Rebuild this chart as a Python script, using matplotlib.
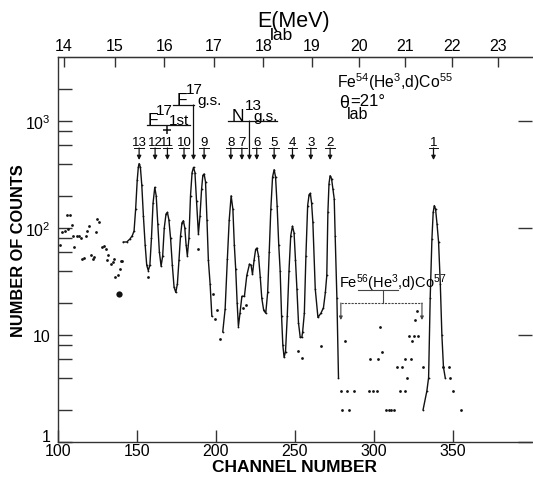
import numpy as np
import matplotlib
matplotlib.use("Agg")
import matplotlib.pyplot as plt
from matplotlib.transforms import blended_transform_factory, ScaledTranslation

# ---------------- data ----------------
# smooth curve drawn through the spectrum, three pieces
line_a_channel = [141.5, 143.7, 145.7, 147.2, 148.3, 149.3, 150.3, 151.0, 151.5, 152.3, 153.2, 154.2,
                  155.3, 156.3, 157.3, 158.3, 159.3, 160.3, 161.4, 162.3, 163.3, 164.3, 165.4, 166.4,
                  167.4, 168.5, 169.4, 170.3, 171.4, 172.5, 173.6, 174.7, 175.7, 176.7, 177.7, 178.6,
                  179.5, 180.4, 181.2, 182.0, 183.0, 184.0, 185.0, 185.9, 186.8, 187.8, 189.0, 190.0,
                  191.0, 191.8, 192.6, 193.5, 194.4, 195.3, 196.4, 197.5]
line_a_counts = [74, 74, 79, 85, 94, 150, 280, 370, 400, 370, 250, 130,
                 70, 45, 40, 45, 80, 170, 240, 200, 110, 60, 44, 55,
                 100, 135, 140, 120, 80, 45, 28, 25, 30, 50, 85, 112,
                 117, 100, 70, 55, 80, 200, 330, 369, 330, 180, 88, 130,
                 230, 310, 320, 270, 120, 50, 30, 15]

line_b_channel = [204.4, 205.9, 207.3, 208.5, 209.7, 210.8, 211.7, 212.6, 213.5, 214.3, 215.3, 216.5,
                  218.1, 219.6, 221.3, 222.3, 223.2, 224.2, 225.2, 226.0, 227.0, 228.1, 229.1, 230.3,
                  231.6, 232.8, 233.8, 234.8, 235.9, 236.9, 237.8, 238.8, 239.8, 240.7, 241.6, 242.4,
                  243.2, 244.1, 245.2, 246.3, 247.4, 248.5, 249.5, 250.4, 251.3, 252.3, 253.4, 254.4,
                  254.9, 256.0, 257.0, 258.1, 259.0, 259.8, 260.6, 261.4, 262.9, 264.6, 266.5, 268.1,
                  269.3, 270.2, 270.9, 271.6, 272.3, 273.2, 274.1, 274.9, 275.5, 276.6, 277.6]
line_b_counts = [10.7, 17.5, 51, 120, 200, 150, 70, 41, 20, 12, 16, 23,
                 23, 36, 46, 45, 37, 50, 63, 65, 55, 35, 22, 17,
                 16, 25, 60, 150, 300, 351, 300, 160, 70, 40, 15, 8,
                 6.2, 7, 15, 40, 85, 104, 90, 50, 27, 13, 9.5, 9.5,
                 10.6, 16, 55, 162, 205, 211, 170, 113, 27, 14.6, 16, 18,
                 25, 36, 140, 260, 308, 290, 230, 187, 85, 22, 4]

line_c_channel = [331.1, 333.5, 334.6, 335.6, 336.7, 337.5, 338.2, 339.0, 339.9, 340.9, 342.0, 343.0,
                  344.0, 345.1]
line_c_counts = [2, 3, 4, 22, 79, 140, 162, 150, 110, 74, 30, 10, 5, 4]

# individual data points off the curve
dot_channel = [101.5, 102.9, 104.6, 105.7, 106.3, 107.8, 108.9, 109.9, 110.5, 112.0, 113.5, 114.7,
               115.6, 116.8, 117.7, 118.7, 119.8, 121.1, 122.2, 123.2, 124.1, 125.1, 126.3, 127.8,
               129.3, 130.4, 131.4, 132.0, 133.7, 134.8, 135.8, 136.3, 138.4, 139.4, 140.1, 140.9,
               157.3, 189.0, 198.5, 199.6, 201.0, 202.7, 217.5, 219.0, 252.3, 254.6, 266.5,
               279.1, 283.3, 287.5, 297.2, 299.5, 301.9, 316.6, 319.8,
               279.7, 284.1, 307.8, 309.5, 311.0, 312.4,
               281.8, 304.0, 305.0, 297.6, 302.8, 314.6, 317.7, 321.0, 319.8, 323.4,
               322.5, 325.3, 328.2, 324.0, 326.1, 327.2, 330.8,
               344.0, 347.2, 348.3, 350.0, 355.3]
dot_counts = [69, 91, 94, 133, 98, 133, 107, 85, 66, 85, 84, 81,
              51, 52, 85, 94, 104, 56, 51, 54, 92, 121, 113, 67,
              68, 64, 50, 56, 46, 48, 51, 35, 36, 41, 49, 49,
              35, 64, 24, 14, 17, 9.2, 18, 19, 7.1, 6.1, 7.9,
              3, 3, 3, 3, 3, 3, 3, 3,
              2, 2, 2, 2, 2, 2,
              8.8, 11.8, 7, 6, 6, 5, 5, 4, 6, 6,
              9.8, 9.8, 9.8, 8.8, 13.9, 16.9, 5,
              5, 5, 4, 3, 2]
big_dot_channel = [138.8]
big_dot_counts = [24]

# peak markers
peak_labels = ['13', '12', '11', '10', '9', '8', '7', '6', '5', '4', '3', '2', '1']
peak_channels = [151.5, 161.6, 169.4, 179.9, 192.6, 209.5, 216.5, 225.9, 236.9, 248.5, 260.1, 272.3, 337.7]
f17_gs_channel = 185.9
f17_first_channel = 169.4
n13_gs_channel = 221.3
fe56_range = [279.1, 330.4]

# axes ticks
channel_ticks = [100, 150, 200, 250, 300, 350]
count_ticks = [1, 10, 100, 1000]
count_tick_labels = ['1', '10', r'$10^2$', r'$10^3$']
energy_ticks = [14, 15, 16, 17, 18, 19, 20, 21, 22, 23]
energy_tick_channels = [104.0, 136.3, 167.5, 198.9, 230.1, 260.7, 290.7, 319.8, 349.7, 378.4]

# ---------------- fonts ----------------
plt.rcParams['font.family'] = ['Liberation Sans', 'DejaVu Sans']
plt.rcParams['mathtext.fontset'] = 'custom'
plt.rcParams['mathtext.rm'] = 'Liberation Sans'
plt.rcParams['mathtext.it'] = 'Liberation Sans:italic'
plt.rcParams['mathtext.bf'] = 'Liberation Sans:bold'

# ---------------- figure ----------------
W, H = 533, 481
fig = plt.figure(figsize=(W / 100, H / 100), dpi=100)
L, R, T, B = 57.7, 532.0, 58.0, 443.0
ax = fig.add_axes([L / W, 1 - B / H, (R - L) / W, (B - T) / H])
ax.set_yscale('log')
ax.set_xlim(100, 400)
ax.set_ylim(1, 10 ** ((B - T) / 107.0))

ink = '#111111'
for seg_x, seg_y in [(line_a_channel, line_a_counts), (line_b_channel, line_b_counts),
                     (line_c_channel, line_c_counts)]:
    ax.plot(seg_x, seg_y, color=ink, lw=1.0, solid_joinstyle='round')
    ax.plot(seg_x, seg_y, 'o', color=ink, ms=1.3, mew=0)
ax.plot(dot_channel, dot_counts, 'o', color=ink, ms=2.0, mew=0)
ax.plot(big_dot_channel, big_dot_counts, 'o', color=ink, ms=4.5, mew=0)

# axes styling
for s in ['left', 'bottom', 'top']:
    ax.spines[s].set_linewidth(1.0)
    ax.spines[s].set_color('#333333')
ax.spines['right'].set_visible(False)
ax.set_xticks(channel_ticks)
ax.set_xticklabels([str(c) for c in channel_ticks], fontsize=11.5)
ax.set_yticks(count_ticks)
ax.set_yticklabels(count_tick_labels, fontsize=11.5)
minor = [m * 10 ** d for d in range(0, 4) for m in (2, 4, 6, 8) if m * 10 ** d < 3000]
ax.set_yticks(minor, minor=True)
ax.yaxis.set_minor_formatter(matplotlib.ticker.NullFormatter())
ax.tick_params(axis='both', which='both', direction='in', width=1.0, color='#333333')
ax.tick_params(axis='x', which='major', length=9, pad=1.0, top=False)
ax.tick_params(axis='x', which='minor', bottom=False, top=False)
ax.tick_params(axis='y', which='major', length=10, right=True, pad=5)
ax.tick_params(axis='y', which='minor', length=10, right=False)
ax.set_xlabel('CHANNEL NUMBER', fontsize=12.5, fontweight='bold')
ax.set_ylabel('NUMBER OF COUNTS', fontsize=11.8, fontweight='bold')
ax.yaxis.set_label_coords((19 - L) / (R - L), 0.5)
ax.xaxis.set_label_coords(0.5, -(468 - B) / (B - T))
ax.xaxis.label.set_va('center')
ax.yaxis.label.set_va('center')
# lift the "1" label slightly above the corner like the reference
one_lbl = ax.yaxis.get_major_ticks()[0].label1
one_lbl.set_transform(one_lbl.get_transform() + ScaledTranslation(0, 5 / 72, fig.dpi_scale_trans))

top = ax.secondary_xaxis('top')
top.set_xticks(energy_tick_channels)
top.set_xticklabels([str(e) for e in energy_ticks], fontsize=11.5)
top.tick_params(direction='in', length=7, width=1.0, pad=3, color='#333333')

def fx(px):
    return px / W

def fy(py):
    return 1 - py / H

def ay(py):
    return (B - py) / (B - T)

tr = blended_transform_factory(ax.transData, ax.transAxes)

# E_lab label
fig.text(fx(257), fy(27), 'E(MeV)', fontsize=15.5, va='baseline', ha='left')
fig.text(fx(270), fy(40), 'lab', fontsize=12.5, va='baseline', ha='left')

# peak arrows
arrow_kw = dict(arrowstyle='-|>', lw=0.9, color=ink, mutation_scale=6, shrinkA=0, shrinkB=0)
for lab, ch in zip(peak_labels, peak_channels):
    ax.text(ch, ay(143), lab, transform=tr, ha='center', va='center', fontsize=9.5)
    ax.plot([ch - 3, ch + 3], [ay(148.5)] * 2, transform=tr, color=ink, lw=0.7)
    ax.annotate('', xy=(ch, ay(161)), xytext=(ch, ay(149)), xycoords=tr, textcoords=tr,
                arrowprops=arrow_kw)

# F17 g.s.
ax.plot([173.0, f17_gs_channel], [ay(106)] * 2, transform=tr, color=ink, lw=0.9)
ax.annotate('', xy=(f17_gs_channel, ay(161)), xytext=(f17_gs_channel, ay(106)), xycoords=tr,
            textcoords=tr, arrowprops=arrow_kw)
fig.text(fx(177), fy(105), 'F', fontsize=12.5, va='baseline', ha='left')
fig.text(fx(186), fy(94), '17', fontsize=11, va='baseline', ha='left')
fig.text(fx(197), fy(105), 'g.s.', fontsize=11, va='baseline', ha='left')

# F17 1st
ax.plot([156.5, 183.7], [ay(126)] * 2, transform=tr, color=ink, lw=0.9)
ax.plot([f17_first_channel], [ay(131)], '+', transform=tr, color=ink, ms=6, mew=1.1)
fig.text(fx(148), fy(125), 'F', fontsize=12.5, va='baseline', ha='left')
fig.text(fx(156), fy(115), '17', fontsize=11, va='baseline', ha='left')
fig.text(fx(169), fy(125), '1st', fontsize=11, va='baseline', ha='left')

# N13 g.s.
ax.plot([207.5, 238.8], [ay(122)] * 2, transform=tr, color=ink, lw=0.9)
ax.annotate('', xy=(n13_gs_channel, ay(161)), xytext=(n13_gs_channel, ay(122)), xycoords=tr,
            textcoords=tr, arrowprops=arrow_kw)
fig.text(fx(232), fy(121), 'N', fontsize=12.5, va='baseline', ha='left')
fig.text(fx(245), fy(110), '13', fontsize=11, va='baseline', ha='left')
fig.text(fx(253), fy(121), 'g.s.', fontsize=11, va='baseline', ha='left')

# reaction labels
fig.text(fx(337), fy(88), r'Fe$^{54}$(He$^{3}$,d)Co$^{55}$', fontsize=11.3, va='baseline', ha='left')
fig.text(fx(339), fy(108), 'θ', fontsize=13, va='baseline', ha='left')
fig.text(fx(350), fy(106), '=21°', fontsize=12, va='baseline', ha='left')
fig.text(fx(347), fy(119), 'lab', fontsize=11.5, va='baseline', ha='left')

# Fe56 bracket
fig.text(fx(339), fy(288), r'Fe$^{56}$(He$^{3}$,d)Co$^{57}$', fontsize=10.5, va='baseline', ha='left')
ax.plot([290.0, 315.4], [ay(291)] * 2, transform=tr, color='#444444', lw=0.8)
ax.plot([305.7, 305.7], [ay(291), ay(304)], transform=tr, color='#444444', lw=0.8)
ax.plot(fe56_range, [ay(304)] * 2, transform=tr, color='#444444', lw=0.8, ls=(0, (2, 1)))
for ch in fe56_range:
    ax.annotate('', xy=(ch, ay(321)), xytext=(ch, ay(304)), xycoords=tr, textcoords=tr,
                arrowprops=dict(arrowstyle='-|>', lw=0.8, color='#444444', mutation_scale=5,
                                shrinkA=0, shrinkB=0))

fig.savefig('out.png', dpi=100)
